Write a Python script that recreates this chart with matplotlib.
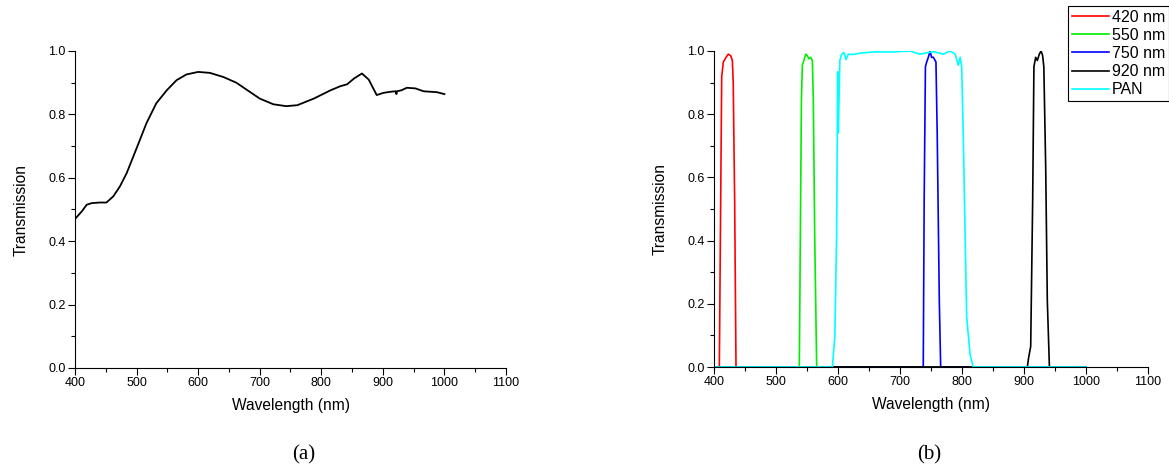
import matplotlib
matplotlib.use('Agg')
import matplotlib.pyplot as plt
from matplotlib.ticker import MultipleLocator

plt.rcParams['font.family'] = ['Liberation Sans', 'DejaVu Sans']

# (a) transmission of the window
wl_a = [400, 411, 419, 427, 440, 451, 462, 473, 484, 500, 516, 532, 549, 565,
        581, 600, 619, 641, 662, 684, 700, 722, 743, 761, 788, 815, 831, 842,
        853, 866, 877, 890, 901, 915, 921, 922, 923, 930, 939, 953, 966, 988, 1000]
tr_a = [0.470, 0.494, 0.515, 0.520, 0.522, 0.522, 0.541, 0.573, 0.615, 0.693,
        0.772, 0.835, 0.876, 0.908, 0.926, 0.934, 0.931, 0.918, 0.900, 0.871,
        0.850, 0.832, 0.826, 0.829, 0.850, 0.876, 0.889, 0.895, 0.913, 0.929,
        0.910, 0.861, 0.868, 0.872, 0.873, 0.864, 0.873, 0.876, 0.884, 0.882,
        0.873, 0.870, 0.864]

# (b) filter transmission curves
wl_420 = [400, 408.6, 412.4, 415, 419.4, 423, 427, 429.6, 431, 433.3, 435.5, 1000]
tr_420 = [0, 0, 0.918, 0.965, 0.98, 0.99, 0.985, 0.97, 0.90, 0.53, 0, 0]

wl_550 = [400, 537.6, 541, 542.5, 545, 548, 550.5, 553, 556, 558.6, 560.2, 562.4, 565.6, 1000]
tr_550 = [0, 0, 0.844, 0.955, 0.97, 0.99, 0.985, 0.975, 0.98, 0.97, 0.844, 0.42, 0, 0]

wl_750 = [400, 737.5, 739, 741, 743, 745.7, 748.4, 751, 753.8, 758, 760, 763.4, 765.6, 1000]
tr_750 = [0, 0, 0.53, 0.95, 0.965, 0.98, 1.0, 0.98, 0.98, 0.965, 0.74, 0.21, 0, 0]

wl_920 = [400, 905.4, 907.5, 910.8, 914, 916, 918.8, 921.5, 924.7, 927.4, 930, 932, 935, 937.6, 941, 1000]
tr_920 = [0, 0, 0.03, 0.065, 0.53, 0.95, 0.98, 0.97, 0.99, 1.0, 0.986, 0.95, 0.63, 0.21, 0, 0]

wl_pan = [400, 591, 595, 597.8, 599.5, 600.5, 601.6, 603, 606, 609.7, 613, 616.7,
          624.7, 635.5, 657, 689, 716, 732, 754, 770, 781, 789, 794, 797, 799.5,
          802, 805, 807.5, 813, 818, 1000]
tr_pan = [0, 0, 0.1, 0.42, 0.934, 0.74, 0.84, 0.97, 0.99, 0.995, 0.973, 0.99,
          0.989, 0.993, 0.997, 0.997, 1.0, 0.99, 0.998, 0.99, 1.0, 0.99, 0.955,
          0.98, 0.95, 0.74, 0.42, 0.16, 0.04, 0, 0]

filters = [
    (wl_420, tr_420, '#ff0000', '420 nm'),
    (wl_550, tr_550, '#00ee00', '550 nm'),
    (wl_750, tr_750, '#0000ff', '750 nm'),
    (wl_920, tr_920, '#000000', '920 nm'),
    (wl_pan, tr_pan, '#00ffff', 'PAN'),
]


def style_axes(ax):
    ax.set_xlim(400, 1100)
    ax.set_ylim(0, 1.0)
    ax.spines['top'].set_visible(False)
    ax.spines['right'].set_visible(False)
    for s in ('left', 'bottom'):
        ax.spines[s].set_linewidth(0.8)
    ax.xaxis.set_major_locator(MultipleLocator(100))
    ax.xaxis.set_minor_locator(MultipleLocator(50))
    ax.yaxis.set_major_locator(MultipleLocator(0.2))
    ax.yaxis.set_minor_locator(MultipleLocator(0.1))
    ax.yaxis.set_major_formatter(plt.FuncFormatter(lambda v, p: f'{v:.1f}'))
    ax.tick_params(which='major', direction='out', length=4.8, width=0.8,
                   labelsize=9, pad=2)
    ax.tick_params(which='minor', direction='out', length=3, width=0.8)
    ax.set_xlabel('Wavelength (nm)', fontsize=11.2, labelpad=6)
    ax.set_ylabel('Transmission', fontsize=11.2, labelpad=14)


fig = plt.figure(figsize=(11.69, 4.71), dpi=100)
ax1 = fig.add_axes([75 / 1169, 103 / 471, 431 / 1169, 317 / 471])
ax2 = fig.add_axes([714 / 1169, 104 / 471, 434 / 1169, 316 / 471])

ax1.plot(wl_a, tr_a, color='black', linewidth=1.3)
style_axes(ax1)

for wl, tr, col, lab in filters:
    ax2.plot(wl, tr, color=col, linewidth=1.2, label=lab)
style_axes(ax2)

leg = fig.legend(loc='upper right', bbox_to_anchor=(1.0, 0.988), fontsize=11.5,
                 frameon=True, fancybox=False, framealpha=1, edgecolor='black',
                 handlelength=2.3, handletextpad=0.2, borderpad=0.25,
                 labelspacing=0.2, borderaxespad=0)
leg.get_frame().set_linewidth(0.8)

fig.text(304 / 1169, 1 - 455 / 471, '(a)', ha='center', va='center',
         fontsize=15, family='Liberation Serif')
fig.text(929 / 1169, 1 - 455 / 471, '(b)', ha='center', va='center',
         fontsize=15, family='Liberation Serif')

fig.savefig('out.png', dpi=100)
